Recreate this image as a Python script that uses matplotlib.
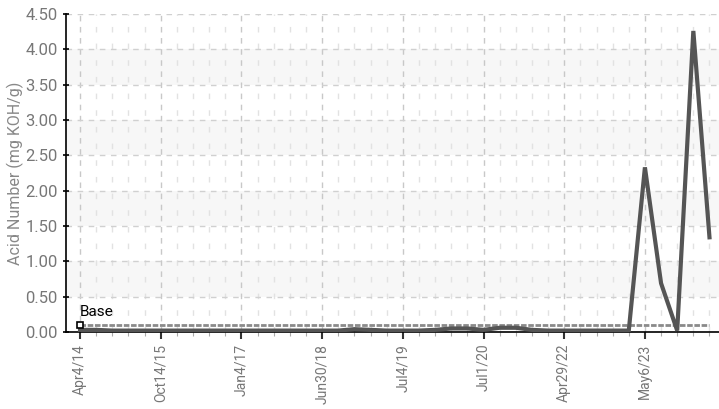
import matplotlib
matplotlib.use("Agg")
import matplotlib.pyplot as plt
from matplotlib.ticker import MultipleLocator

plt.rcParams['font.family'] = ['Roboto', 'DejaVu Sans']

tick_labels = ["Apr4/14", "Oct14/15", "Jan4/17", "Jun30/18", "Jul4/19",
               "Jul1/20", "Apr29/22", "May6/23"]
acid_number = [0.03, 0.03, 0.02, 0.02, 0.02, 0.02, 0.02, 0.02, 0.02, 0.02,
               0.02, 0.02, 0.02, 0.02, 0.02, 0.02, 0.02, 0.04, 0.03, 0.02,
               0.02, 0.02, 0.03, 0.05, 0.05, 0.03, 0.06, 0.06, 0.03, 0.02,
               0.02, 0.02, 0.02, 0.02, 0.02, 2.33, 0.69, 0.02, 4.26, 1.34]
base_value = 0.1
tick_step = 5

n = len(acid_number)
x = list(range(n))

fig = plt.figure(figsize=(7.19, 4.09), dpi=100)
ax = fig.add_axes([66/719, 1-332/409, 1-66/719, (332-14)/409])

ax.set_xlim(-0.87, n - 0.41)
ax.set_ylim(0, 4.5)

# alternating bands
for lo in [0.5, 1.5, 2.5, 3.5]:
    ax.axhspan(lo, lo + 0.5, color='#f7f7f7', zorder=0, lw=0)

# grids
ax.yaxis.set_major_locator(MultipleLocator(0.5))
ax.set_xticks(x[::tick_step])
ax.set_xticks(x, minor=True)
ax.set_xticklabels(tick_labels, rotation=90)
ax.set_yticklabels([f"{v:.2f}" for v in ax.get_yticks()])
ax.grid(axis='y', which='major', color='#d0d0d0', ls=(0, (4, 4)), lw=1, zorder=1)
ax.grid(axis='x', which='major', color='#c8c8c8', ls=(0, (4, 4)), lw=1, zorder=1)
ax.grid(axis='x', which='minor', color='#e2e2e2', ls=(0, (4, 8)), lw=1, zorder=1)

# base line
ax.plot(x, [base_value] * n, color='#8a8a8a', lw=2, ls=(0, (2, 0.6)), zorder=2)
ax.plot([x[0]], [base_value], marker='s', ms=5, mfc='white', mec='black',
        mew=1.2, zorder=4, ls='none')
ax.text(x[0], base_value + 0.09, "Base", fontsize=11, color='black',
        ha='left', va='bottom', zorder=5)

# data line
ax.plot(x, acid_number, color='#555555', lw=3, zorder=3,
        solid_joinstyle='miter')

for s in ['top', 'right']:
    ax.spines[s].set_visible(False)
ax.spines['left'].set_color('black')
ax.spines['bottom'].set_color('black')
ax.spines['left'].set_linewidth(1.2)
ax.spines['bottom'].set_linewidth(1.2)

ax.tick_params(axis='y', which='major', length=5, width=1.2, colors='black',
               labelcolor='#777777', labelsize=12, direction='inout')
ax.tick_params(axis='x', which='major', length=5, width=1.5, colors='#333333',
               labelcolor='#777777', labelsize=10)
ax.tick_params(axis='x', which='minor', length=3, width=0.8, colors='#aaaaaa')

ax.set_ylabel("Acid Number (mg KOH/g)", color='#888888', fontsize=11.5)
ax.yaxis.set_label_coords(-(66 - 24) / 653, 0.5)

fig.savefig("out.png", dpi=100)
